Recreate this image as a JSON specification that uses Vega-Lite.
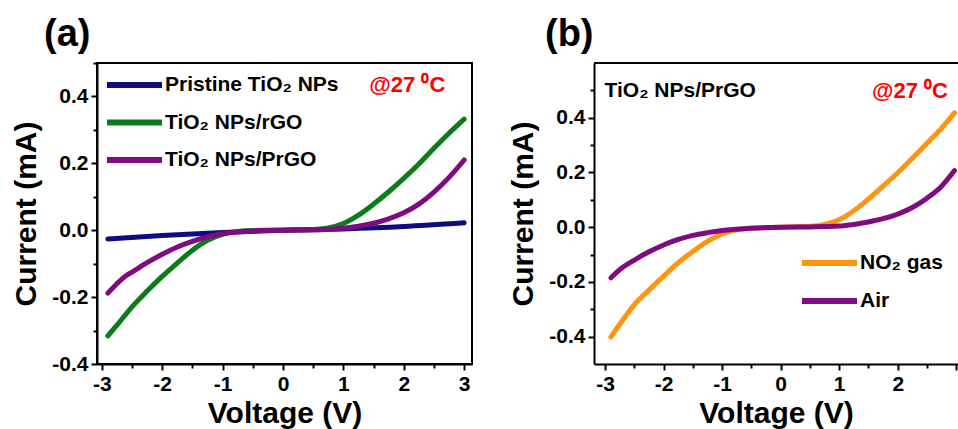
{
  "$schema": "https://vega.github.io/schema/vega-lite/v6.json",
  "background": "white",
  "padding": {"left": 10, "right": 0, "top": 15, "bottom": 0},
  "spacing": 32,
  "config": {
    "font": "Liberation Sans",
    "view": {"stroke": "black", "strokeWidth": 2},
    "axis": {
      "labelFont": "Liberation Sans", "labelFontWeight": "bold", "labelFontSize": 21, "labelColor": "black",
      "titleFont": "Liberation Sans", "titleFontSize": 30, "titleFontWeight": "bold", "titleColor": "black",
      "grid": false, "domainColor": "black", "domainWidth": 2, "tickColor": "black", "tickWidth": 2, "tickSize": 6,
      "labelPadding": 3
    },
    "legend": {
      "labelFont": "Liberation Sans", "labelFontWeight": "bold", "labelFontSize": 21, "labelColor": "black", "labelLimit": 0,
      "symbolType": "stroke", "symbolStrokeWidth": 6, "symbolSize": 3025, "labelOffset": 0, "clipHeight": 20
    },
    "title": {"font": "Liberation Sans", "fontSize": 38, "fontWeight": "bold", "color": "black", "anchor": "start", "frame": "group"}
  },
  "resolve": {"scale": {"x": "independent", "y": "independent", "color": "independent"}, "legend": {"color": "independent"}},
  "hconcat": [
    {
      "width": 375,
      "height": 301,
      "title": {"text": "(a)", "dx": -53, "offset": 8},
      "resolve": {"axis": {"x": "independent", "y": "independent"}},
      "layer": [
        {
          "data": {"values": [
            {"series": "Pristine TiO₂ NPs", "V": -2.9, "I": -0.026},
            {"series": "Pristine TiO₂ NPs", "V": -2.0, "I": -0.016},
            {"series": "Pristine TiO₂ NPs", "V": -1.0, "I": -0.007},
            {"series": "Pristine TiO₂ NPs", "V": 0.0, "I": 0.0},
            {"series": "Pristine TiO₂ NPs", "V": 1.0, "I": 0.004},
            {"series": "Pristine TiO₂ NPs", "V": 2.0, "I": 0.011},
            {"series": "Pristine TiO₂ NPs", "V": 3.0, "I": 0.022},
            {"series": "TiO₂ NPs/rGO", "V": -2.9, "I": -0.316},
            {"series": "TiO₂ NPs/rGO", "V": -2.75, "I": -0.284},
            {"series": "TiO₂ NPs/rGO", "V": -2.5, "I": -0.229},
            {"series": "TiO₂ NPs/rGO", "V": -2.25, "I": -0.182},
            {"series": "TiO₂ NPs/rGO", "V": -2.0, "I": -0.138},
            {"series": "TiO₂ NPs/rGO", "V": -1.75, "I": -0.098},
            {"series": "TiO₂ NPs/rGO", "V": -1.5, "I": -0.06},
            {"series": "TiO₂ NPs/rGO", "V": -1.25, "I": -0.03},
            {"series": "TiO₂ NPs/rGO", "V": -1.0, "I": -0.012},
            {"series": "TiO₂ NPs/rGO", "V": -0.75, "I": -0.004},
            {"series": "TiO₂ NPs/rGO", "V": -0.5, "I": -0.001},
            {"series": "TiO₂ NPs/rGO", "V": 0.0, "I": 0.0},
            {"series": "TiO₂ NPs/rGO", "V": 0.5, "I": 0.002},
            {"series": "TiO₂ NPs/rGO", "V": 0.75, "I": 0.007},
            {"series": "TiO₂ NPs/rGO", "V": 1.0, "I": 0.02},
            {"series": "TiO₂ NPs/rGO", "V": 1.25, "I": 0.045},
            {"series": "TiO₂ NPs/rGO", "V": 1.5, "I": 0.078},
            {"series": "TiO₂ NPs/rGO", "V": 1.75, "I": 0.115},
            {"series": "TiO₂ NPs/rGO", "V": 2.0, "I": 0.155},
            {"series": "TiO₂ NPs/rGO", "V": 2.25, "I": 0.198},
            {"series": "TiO₂ NPs/rGO", "V": 2.5, "I": 0.245},
            {"series": "TiO₂ NPs/rGO", "V": 2.75, "I": 0.29},
            {"series": "TiO₂ NPs/rGO", "V": 3.0, "I": 0.332},
            {"series": "TiO₂ NPs/PrGO", "V": -2.9, "I": -0.188},
            {"series": "TiO₂ NPs/PrGO", "V": -2.75, "I": -0.16},
            {"series": "TiO₂ NPs/PrGO", "V": -2.6, "I": -0.136},
            {"series": "TiO₂ NPs/PrGO", "V": -2.5, "I": -0.125},
            {"series": "TiO₂ NPs/PrGO", "V": -2.25, "I": -0.097},
            {"series": "TiO₂ NPs/PrGO", "V": -2.0, "I": -0.072},
            {"series": "TiO₂ NPs/PrGO", "V": -1.75, "I": -0.05},
            {"series": "TiO₂ NPs/PrGO", "V": -1.5, "I": -0.033},
            {"series": "TiO₂ NPs/PrGO", "V": -1.25, "I": -0.02},
            {"series": "TiO₂ NPs/PrGO", "V": -1.0, "I": -0.01},
            {"series": "TiO₂ NPs/PrGO", "V": -0.5, "I": -0.002},
            {"series": "TiO₂ NPs/PrGO", "V": 0.0, "I": 0.0},
            {"series": "TiO₂ NPs/PrGO", "V": 0.5, "I": 0.001},
            {"series": "TiO₂ NPs/PrGO", "V": 1.0, "I": 0.006},
            {"series": "TiO₂ NPs/PrGO", "V": 1.25, "I": 0.012},
            {"series": "TiO₂ NPs/PrGO", "V": 1.5, "I": 0.021},
            {"series": "TiO₂ NPs/PrGO", "V": 1.75, "I": 0.034},
            {"series": "TiO₂ NPs/PrGO", "V": 2.0, "I": 0.052},
            {"series": "TiO₂ NPs/PrGO", "V": 2.25, "I": 0.078},
            {"series": "TiO₂ NPs/PrGO", "V": 2.5, "I": 0.114},
            {"series": "TiO₂ NPs/PrGO", "V": 2.75, "I": 0.158},
            {"series": "TiO₂ NPs/PrGO", "V": 3.0, "I": 0.21}
          ]},
          "mark": {"type": "line", "strokeWidth": 5, "strokeCap": "round", "interpolate": "monotone"},
          "encoding": {
            "x": {"field": "V", "type": "quantitative", "scale": {"domain": [-3.08, 3.13], "nice": false, "zero": false},
                  "axis": {"values": [-3, -2, -1, 0, 1, 2, 3], "labelExpr": "replace(datum.label, '−', '-')", "title": "Voltage (V)", "titlePadding": 4, "orient": "bottom"}},
            "y": {"field": "I", "type": "quantitative", "scale": {"domain": [-0.4, 0.5], "nice": false, "zero": false},
                  "axis": {"values": [-0.4, -0.2, 0, 0.2, 0.4], "format": ".1f", "labelExpr": "replace(datum.label, '−', '-')", "title": "Current (mA)", "titlePadding": 10, "orient": "left"}},
            "color": {"field": "series", "type": "nominal",
                      "scale": {"domain": ["Pristine TiO₂ NPs", "TiO₂ NPs/rGO", "TiO₂ NPs/PrGO"], "range": ["#0c0c80", "#0a7d1a", "#800a80"]},
                      "legend": {"orient": "none", "legendX": 7, "legendY": 12, "title": null, "rowPadding": 16.5}}
          }
        },
        {
          "data": {"values": [{"V": 1.43, "I": 0.433, "label": "@27 ⁰C"}]},
          "mark": {"type": "text", "color": "#ff0000", "fontSize": 22, "fontWeight": "bold", "align": "left", "baseline": "middle", "font": "Liberation Sans"},
          "encoding": {
            "x": {"field": "V", "type": "quantitative", "scale": {"domain": [-3.08, 3.13], "nice": false, "zero": false},
                  "axis": {"values": [-2.5, -1.5, -0.5, 0.5, 1.5, 2.5], "labels": false, "domain": false, "tickSize": 4, "title": null, "orient": "bottom"}},
            "y": {"field": "I", "type": "quantitative", "scale": {"domain": [-0.4, 0.5], "nice": false, "zero": false},
                  "axis": {"values": [-0.3, -0.1, 0.1, 0.3, 0.5], "labels": false, "domain": false, "tickSize": 4, "title": null, "orient": "left"}},
            "text": {"field": "label"}
          }
        }
      ]
    },
    {
      "width": 364,
      "height": 301,
      "title": {"text": "(b)", "dx": -49, "offset": 8},
      "view": {"stroke": null},
      "resolve": {"axis": {"x": "independent", "y": "independent"}},
      "layer": [
        {
          "data": {"values": [
            {"series": "NO₂ gas", "V": -2.9, "I": -0.401},
            {"series": "NO₂ gas", "V": -2.75, "I": -0.355},
            {"series": "NO₂ gas", "V": -2.5, "I": -0.283},
            {"series": "NO₂ gas", "V": -2.25, "I": -0.23},
            {"series": "NO₂ gas", "V": -2.0, "I": -0.179},
            {"series": "NO₂ gas", "V": -1.75, "I": -0.13},
            {"series": "NO₂ gas", "V": -1.5, "I": -0.089},
            {"series": "NO₂ gas", "V": -1.25, "I": -0.052},
            {"series": "NO₂ gas", "V": -1.0, "I": -0.025},
            {"series": "NO₂ gas", "V": -0.75, "I": -0.01},
            {"series": "NO₂ gas", "V": -0.5, "I": -0.004},
            {"series": "NO₂ gas", "V": 0.0, "I": 0.0},
            {"series": "NO₂ gas", "V": 0.5, "I": 0.003},
            {"series": "NO₂ gas", "V": 0.75, "I": 0.01},
            {"series": "NO₂ gas", "V": 1.0, "I": 0.027},
            {"series": "NO₂ gas", "V": 1.25, "I": 0.06},
            {"series": "NO₂ gas", "V": 1.5, "I": 0.103},
            {"series": "NO₂ gas", "V": 1.75, "I": 0.15},
            {"series": "NO₂ gas", "V": 2.0, "I": 0.199},
            {"series": "NO₂ gas", "V": 2.25, "I": 0.252},
            {"series": "NO₂ gas", "V": 2.5, "I": 0.307},
            {"series": "NO₂ gas", "V": 2.75, "I": 0.362},
            {"series": "NO₂ gas", "V": 2.97, "I": 0.418},
            {"series": "Air", "V": -2.9, "I": -0.185},
            {"series": "Air", "V": -2.75, "I": -0.155},
            {"series": "Air", "V": -2.5, "I": -0.12},
            {"series": "Air", "V": -2.25, "I": -0.09},
            {"series": "Air", "V": -2.0, "I": -0.065},
            {"series": "Air", "V": -1.75, "I": -0.045},
            {"series": "Air", "V": -1.5, "I": -0.03},
            {"series": "Air", "V": -1.25, "I": -0.02},
            {"series": "Air", "V": -1.0, "I": -0.012},
            {"series": "Air", "V": -0.5, "I": -0.004},
            {"series": "Air", "V": 0.0, "I": 0.0},
            {"series": "Air", "V": 0.5, "I": 0.001},
            {"series": "Air", "V": 1.0, "I": 0.004},
            {"series": "Air", "V": 1.25, "I": 0.01},
            {"series": "Air", "V": 1.5, "I": 0.019},
            {"series": "Air", "V": 1.75, "I": 0.031},
            {"series": "Air", "V": 2.0, "I": 0.048},
            {"series": "Air", "V": 2.25, "I": 0.072},
            {"series": "Air", "V": 2.5, "I": 0.106},
            {"series": "Air", "V": 2.75, "I": 0.15},
            {"series": "Air", "V": 2.97, "I": 0.207}
          ]},
          "mark": {"type": "line", "strokeWidth": 5, "strokeCap": "round", "interpolate": "monotone"},
          "encoding": {
            "x": {"field": "V", "type": "quantitative", "scale": {"domain": [-3.19, 3.03], "nice": false, "zero": false},
                  "axis": {"values": [-3, -2, -1, 0, 1, 2, 3], "labelExpr": "datum.value == 3 ? '' : replace(datum.label, '−', '-')", "title": "Voltage (V)", "titlePadding": 4, "orient": "bottom"}},
            "y": {"field": "I", "type": "quantitative", "scale": {"domain": [-0.5, 0.6], "nice": false, "zero": false},
                  "axis": {"values": [-0.4, -0.2, 0, 0.2, 0.4], "format": ".1f", "labelExpr": "replace(datum.label, '−', '-')", "title": "Current (mA)", "titlePadding": 10, "orient": "left"}},
            "color": {"field": "series", "type": "nominal",
                      "scale": {"domain": ["NO₂ gas", "Air"], "range": ["#ff9410", "#800a80"]},
                      "legend": {"orient": "none", "legendX": 205, "legendY": 190, "title": null, "rowPadding": 17}}
          }
        },
        {
          "data": {"values": [{"V": 1.56, "I": 0.498, "label": "@27 ⁰C"}]},
          "mark": {"type": "text", "color": "#ff0000", "fontSize": 22, "fontWeight": "bold", "align": "left", "baseline": "middle", "font": "Liberation Sans"},
          "encoding": {
            "x": {"field": "V", "type": "quantitative", "scale": {"domain": [-3.19, 3.03], "nice": false, "zero": false},
                  "axis": {"values": [-2.5, -1.5, -0.5, 0.5, 1.5, 2.5], "labels": false, "domain": false, "tickSize": 4, "title": null, "orient": "bottom"}},
            "y": {"field": "I", "type": "quantitative", "scale": {"domain": [-0.5, 0.6], "nice": false, "zero": false},
                  "axis": {"values": [-0.3, -0.1, 0.1, 0.3, 0.5], "labels": false, "domain": false, "tickSize": 4, "title": null, "orient": "left"}},
            "text": {"field": "label"}
          }
        },
        {
          "data": {"values": [{"V": -3.01, "I": 0.498, "label": "TiO₂ NPs/PrGO"}]},
          "mark": {"type": "text", "color": "black", "fontSize": 21, "fontWeight": "bold", "align": "left", "baseline": "middle", "font": "Liberation Sans"},
          "encoding": {
            "x": {"field": "V", "type": "quantitative", "axis": null},
            "y": {"field": "I", "type": "quantitative", "axis": null},
            "text": {"field": "label"}
          }
        },
        {
          "data": {"values": [{"top": 0.6}]},
          "mark": {"type": "rule", "color": "black", "strokeWidth": 2},
          "encoding": {
            "y": {"field": "top", "type": "quantitative", "axis": null}
          }
        }
      ]
    }
  ]
}
